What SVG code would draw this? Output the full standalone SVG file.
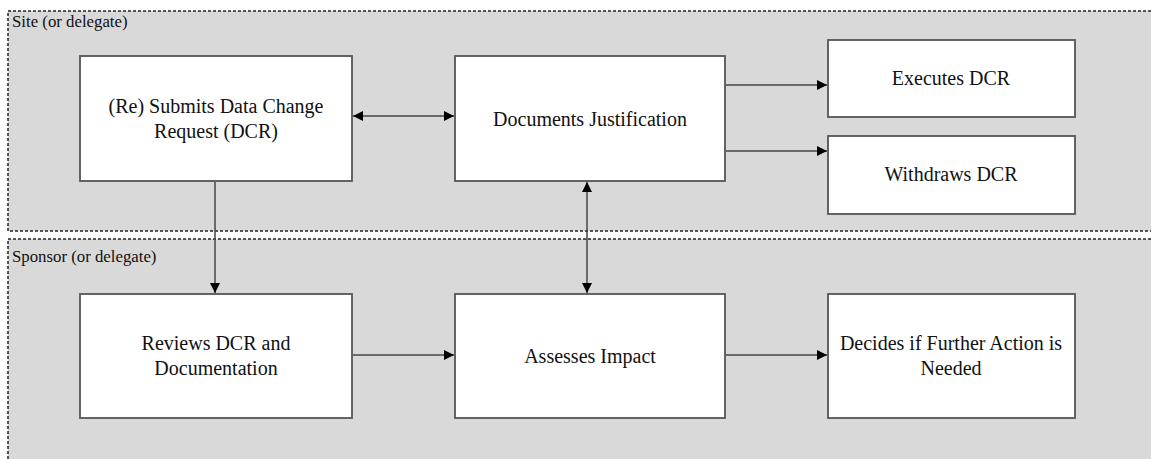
<svg xmlns="http://www.w3.org/2000/svg" width="1151" height="459" viewBox="0 0 1151 459">
<style>
.lane{fill:#d9d9d9;stroke:#222;stroke-width:1.5;stroke-dasharray:3 2}
.lbl{font-family:'Liberation Serif','Times New Roman','DejaVu Serif',serif;font-size:16.8px;fill:#111}
.box{fill:#fff;stroke:#555;stroke-width:1.8}
.t{font-family:'Liberation Serif','Times New Roman','DejaVu Serif',serif;font-size:20px;fill:#111;text-anchor:middle}
.c{stroke:#444;stroke-width:1.5;fill:none}
</style>
<defs>
<marker id="ah" viewBox="0 0 10 10" refX="10" refY="5" markerWidth="10" markerHeight="10" markerUnits="userSpaceOnUse" orient="auto-start-reverse">
<path d="M0,0 L10,5 L0,10 Z" fill="#000"/>
</marker>
</defs>
<rect width="1151" height="459" fill="#fff"/>
<g id="lane-site">
<rect class="lane" x="8" y="11" width="1160" height="220"/>
<text class="lbl" x="12" y="27">Site (or delegate)</text>
</g>
<g id="lane-sponsor">
<rect class="lane" x="8" y="239" width="1160" height="240"/>
<text class="lbl" x="12" y="262">Sponsor (or delegate)</text>
</g>
<g id="connectors">
<line class="c" x1="353" y1="116" x2="454" y2="116" marker-start="url(#ah)" marker-end="url(#ah)"/>
<line class="c" x1="726" y1="85" x2="827" y2="85" marker-end="url(#ah)"/>
<line class="c" x1="726" y1="151" x2="827" y2="151" marker-end="url(#ah)"/>
<line class="c" x1="215" y1="182" x2="215" y2="293" marker-end="url(#ah)"/>
<line class="c" x1="587" y1="182" x2="587" y2="293" marker-start="url(#ah)" marker-end="url(#ah)"/>
<line class="c" x1="353" y1="355" x2="454" y2="355" marker-end="url(#ah)"/>
<line class="c" x1="726" y1="355" x2="827" y2="355" marker-end="url(#ah)"/>
</g>
<g id="submits">
<rect class="box" x="80" y="56" width="272" height="125"/>
<text class="t" x="216" y="113">(Re) Submits Data Change</text>
<text class="t" x="216" y="138">Request (DCR)</text>
</g>
<g id="documents">
<rect class="box" x="455" y="56" width="270" height="125"/>
<text class="t" x="590" y="126">Documents Justification</text>
</g>
<g id="executes">
<rect class="box" x="828" y="40" width="247" height="77"/>
<text class="t" x="951" y="85">Executes DCR</text>
</g>
<g id="withdraws">
<rect class="box" x="828" y="136" width="247" height="78"/>
<text class="t" x="951" y="181">Withdraws DCR</text>
</g>
<g id="reviews">
<rect class="box" x="80" y="294" width="272" height="124"/>
<text class="t" x="216" y="350">Reviews DCR and</text>
<text class="t" x="216" y="375">Documentation</text>
</g>
<g id="assesses">
<rect class="box" x="455" y="294" width="270" height="124"/>
<text class="t" x="590" y="363">Assesses Impact</text>
</g>
<g id="decides">
<rect class="box" x="828" y="294" width="247" height="124"/>
<text class="t" x="951" y="350">Decides if Further Action is</text>
<text class="t" x="951" y="375">Needed</text>
</g>
</svg>
